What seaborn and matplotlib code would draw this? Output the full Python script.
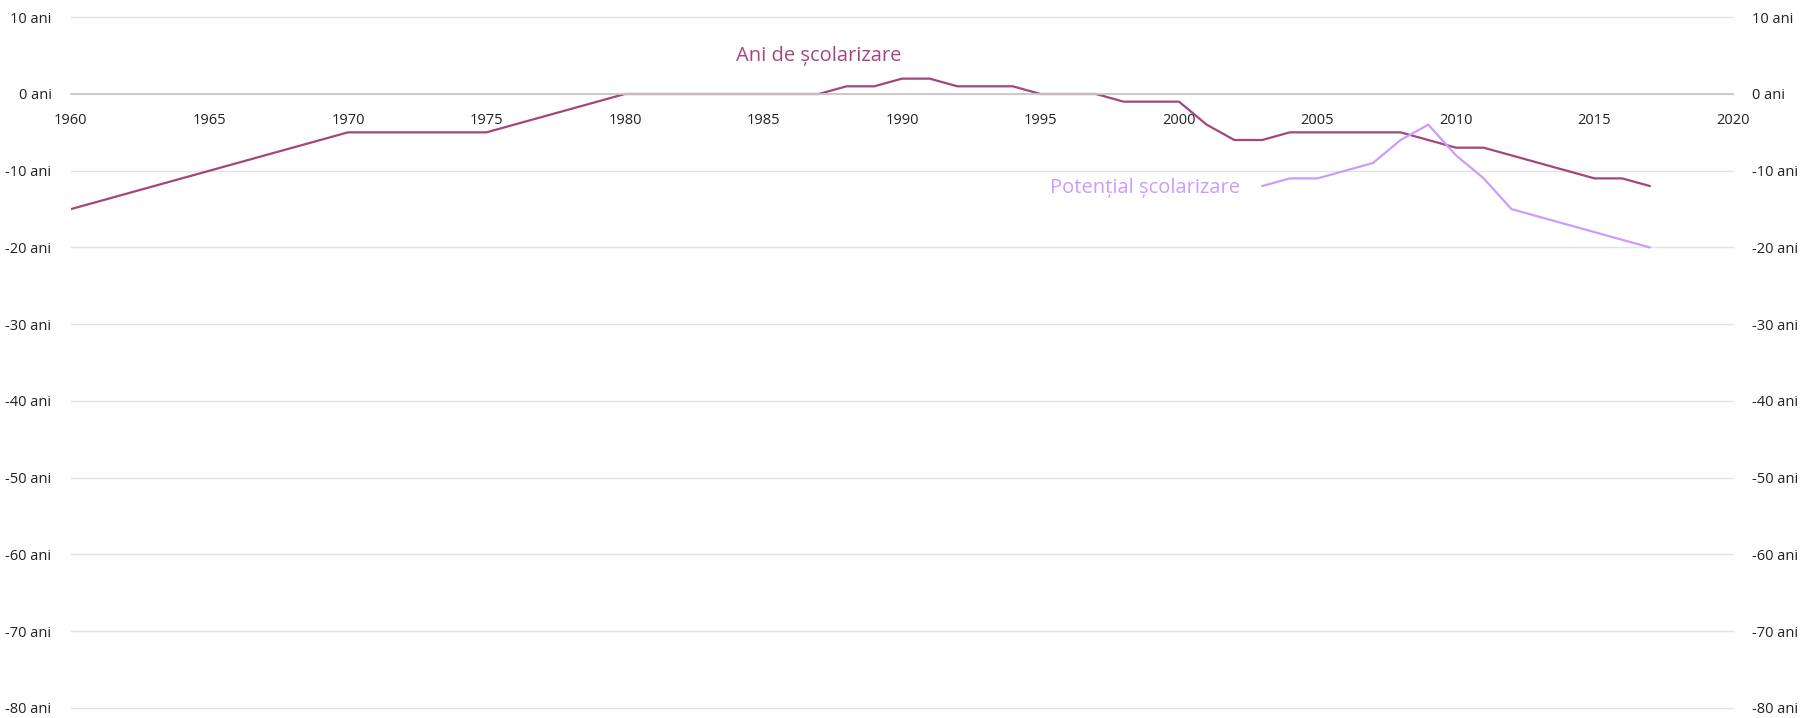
#!/usr/bin/env python3
"""
Ani de scolarizare vs potential scolarizare - line chart recreation
"""

import pandas as pd
import matplotlib
matplotlib.use("Agg")
import matplotlib.pyplot as plt
import seaborn as sns

# Data
years_ani = list(range(1960, 2018))
ani_scolarizare = [
    -15, -14, -13, -12, -11, -10, -9, -8, -7, -6,   # 1960-1969
    -5, -5, -5, -5, -5, -5, -4, -3, -2, -1,         # 1970-1979
    0, 0, 0, 0, 0, 0, 0, 0, 1, 1,                   # 1980-1989
    2, 2, 1, 1, 1, 0, 0, 0, -1, -1,                 # 1990-1999
    -1, -4, -6, -6, -5, -5, -5, -5, -5, -6,         # 2000-2009
    -7, -7, -8, -9, -10, -11, -11, -12,             # 2010-2017
]

years_pot = list(range(2003, 2018))
potential_scolarizare = [-12, -11, -11, -10, -9, -6, -4, -8, -11, -15,
                         -16, -17, -18, -19, -20]

y_ticks = list(range(-80, 11, 10))
x_ticks = list(range(1960, 2021, 5))

COLOR_ANI = "#A4467A"
COLOR_POT = "#CC9BFF"

sns.set_theme(style="white")
plt.rcParams['font.family'] = ['Open Sans', 'DejaVu Sans']

df_ani = pd.DataFrame({'an': years_ani, 'valoare': ani_scolarizare})
df_pot = pd.DataFrame({'an': years_pot, 'valoare': potential_scolarizare})

fig = plt.figure(figsize=(18, 7.18), dpi=100)
ax = fig.add_axes([0.0394, 0.014, 0.9234, 0.962])

sns.lineplot(data=df_ani, x='an', y='valoare', ax=ax, color=COLOR_ANI, linewidth=1.6)
sns.lineplot(data=df_pot, x='an', y='valoare', ax=ax, color=COLOR_POT, linewidth=1.6)

ax.set_xlim(1960, 2020)
ax.set_ylim(-80, 10)
ax.set_xlabel('')
ax.set_ylabel('')

# horizontal gridlines
ax.set_yticks(y_ticks)
ax.set_yticklabels([f"{v} ani" for v in y_ticks])
ax.yaxis.grid(True, color='#e3e3e3', linewidth=1)
ax.xaxis.grid(False)
ax.set_axisbelow(True)
for gl in ax.get_ygridlines():
    gl.set_clip_on(False)

# x axis sits on the zero line
for side in ['top', 'right', 'left']:
    ax.spines[side].set_visible(False)
ax.spines['bottom'].set_position(('data', 0))
ax.spines['bottom'].set_color('#c8c8c8')
ax.spines['bottom'].set_linewidth(1.3)
ax.set_xticks(x_ticks)
ax.tick_params(axis='x', direction='out', length=6, width=1, color='#c8c8c8',
               labelsize=10.5, pad=8, labelcolor='#222222')
ax.tick_params(axis='y', left=False, right=False, labelleft=True, labelright=True,
               labelsize=10.5, pad=8, labelcolor='#222222')

# series labels
ax.text(1987, 5.0, 'Ani de școlarizare', color=COLOR_ANI, fontsize=14.5,
        ha='center', va='center')
ax.text(2002.2, -12.2, 'Potențial școlarizare', color=COLOR_POT, fontsize=14.5,
        ha='right', va='center')

fig.savefig('out.png', dpi=100)
plt.close(fig)
